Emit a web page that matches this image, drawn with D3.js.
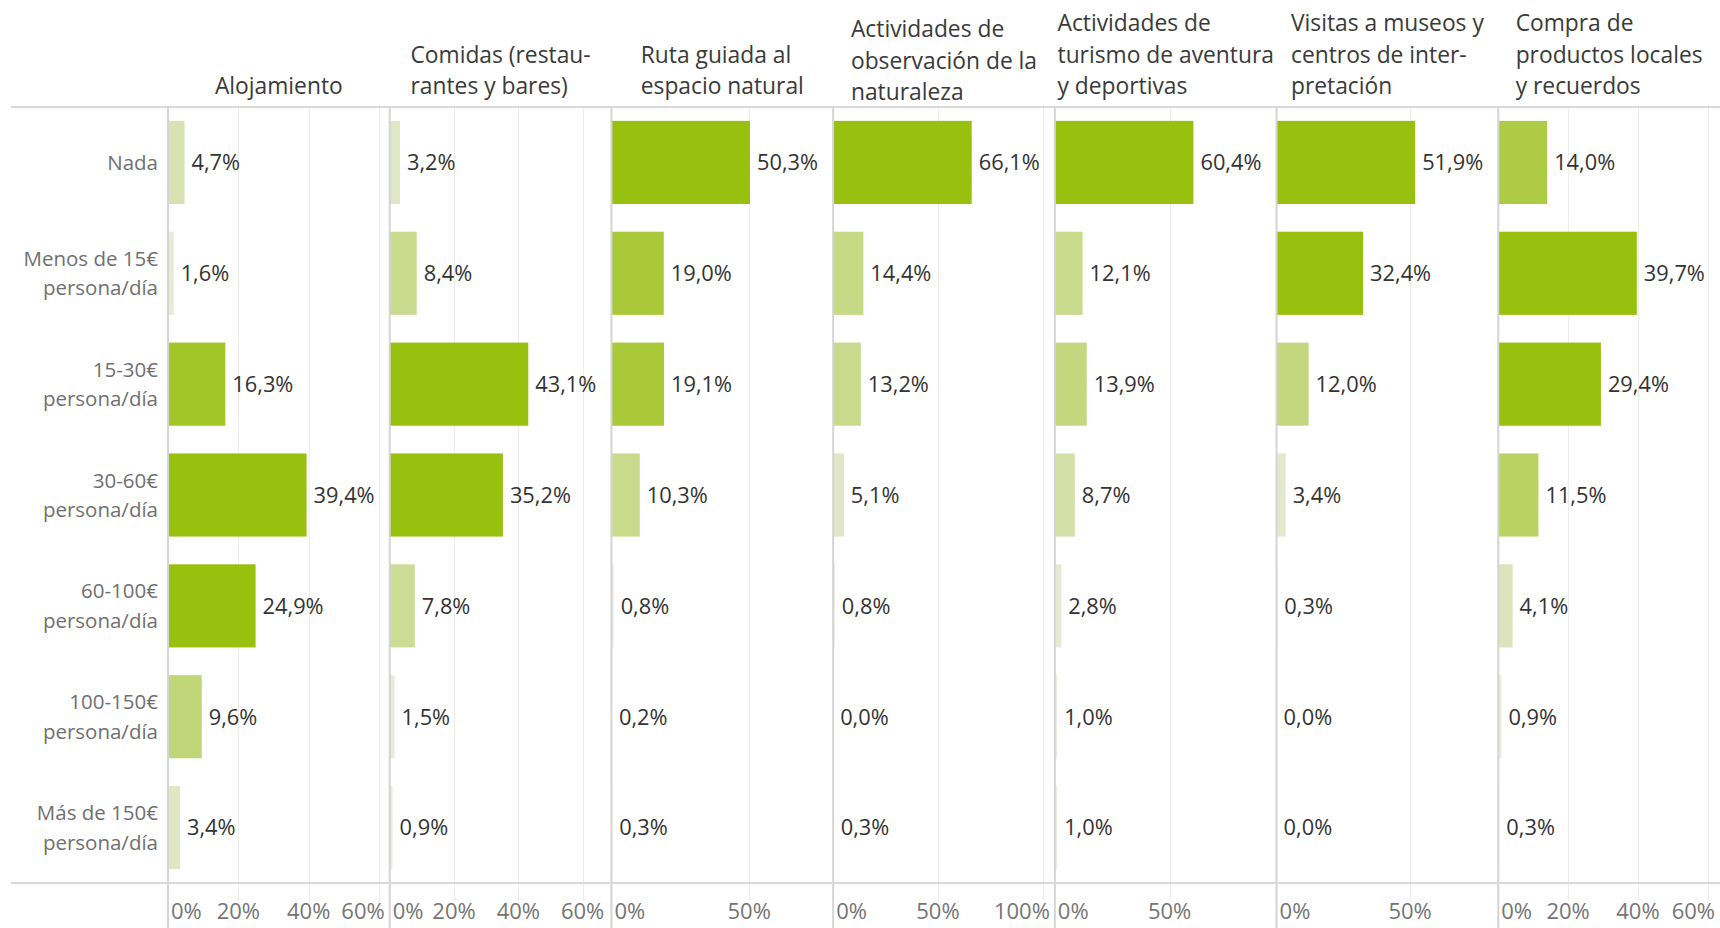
<!DOCTYPE html>
<html>
<head>
<meta charset="utf-8">
<script src="https://cdn.jsdelivr.net/npm/d3@7"></script>
<style>
  body { margin: 0; background: #fff; }
  svg text { font-family: "Open Sans", sans-serif; }
</style>
</head>
<body>
<script>
// row categories, one entry per line of text
var rowLabels = [
  ["Nada"],
  ["Menos de 15€", "persona/día"],
  ["15-30€", "persona/día"],
  ["30-60€", "persona/día"],
  ["60-100€", "persona/día"],
  ["100-150€", "persona/día"],
  ["Más de 150€", "persona/día"]
];

// column headers, wrapped as in the original
var columnHeaders = [
  ["Alojamiento"],
  ["Comidas (restau-", "rantes y bares)"],
  ["Ruta guiada al", "espacio natural"],
  ["Actividades de", "observación de la", "naturaleza"],
  ["Actividades de", "turismo de aventura", "y deportivas"],
  ["Visitas a museos y", "centros de inter-", "pretación"],
  ["Compra de", "productos locales", "y recuerdos"]
];

// % of respondents per spending band
var alojamiento = [4.7, 1.6, 16.3, 39.4, 24.9, 9.6, 3.4];
var comidas     = [3.2, 8.4, 43.1, 35.2, 7.8, 1.5, 0.9];
var rutaGuiada  = [50.3, 19.0, 19.1, 10.3, 0.8, 0.2, 0.3];
var observacion = [66.1, 14.4, 13.2, 5.1, 0.8, 0.0, 0.3];
var aventura    = [60.4, 12.1, 13.9, 8.7, 2.8, 1.0, 1.0];
var museos      = [51.9, 32.4, 12.0, 3.4, 0.3, 0.0, 0.0];
var compra      = [14.0, 39.7, 29.4, 11.5, 4.1, 0.9, 0.3];

// axis tick values per column
var axisTicks = [
  [0, 20, 40, 60],
  [0, 20, 40, 60],
  [0, 50],
  [0, 50, 100],
  [0, 50],
  [0, 50],
  [0, 20, 40, 60]
];

var series = [alojamiento, comidas, rutaGuiada, observacion, aventura, museos, compra];

var width = 1720, height = 928,
    lineStart = 11, panelStart = 168,
    yTop = 107, yBottom = 883;

var es = d3.formatLocale({decimal: ",", thousands: ".", grouping: [3], currency: ["", "€"]});
var fmt = es.format(".1f");

var svg = d3.select("body").append("svg")
    .attr("width", width)
    .attr("height", height);

// one band per column
var xPanel = d3.scaleBand()
    .domain(d3.range(series.length))
    .range([panelStart, width]);

// one band per spending row
var y = d3.scaleBand()
    .domain(d3.range(rowLabels.length))
    .range([yTop, yBottom])
    .paddingInner(0.25)
    .paddingOuter(0.125);

// light to full green ramp
var ramp = d3.interpolateRgb("#eeeeea", "#98c00e");

var gGrid = svg.append("g"),
    gBars = svg.append("g"),
    gLines = svg.append("g"),
    gText = svg.append("g");

series.forEach(function(vals, i) {
  var x0 = xPanel(i), x1 = x0 + xPanel.bandwidth();
  var vmax = d3.max(vals);
  var x = d3.scaleLinear().domain([0, vmax * 1.6]).range([x0, x1]);
  var color = d3.scaleLinear().domain([0, vmax * 0.47]).range([0, 1]).clamp(true);

  // gridlines
  gGrid.selectAll(".grid" + i)
      .data(axisTicks[i].filter(function(t) { return t > 0; }))
    .enter().append("line")
      .attr("x1", function(t) { return Math.round(x(t)) + 0.5; })
      .attr("x2", function(t) { return Math.round(x(t)) + 0.5; })
      .attr("y1", yTop)
      .attr("y2", yBottom + 18)
      .style("stroke", "#ececec")
      .style("stroke-width", 1);

  // bars
  gBars.selectAll(".bar" + i)
      .data(vals)
    .enter().append("rect")
      .attr("x", x(0))
      .attr("y", function(d, j) { return y(j); })
      .attr("width", function(d) { return x(d) - x(0); })
      .attr("height", y.bandwidth())
      .style("fill", function(d) { return ramp(color(d)); });

  // value labels
  gText.selectAll(".val" + i)
      .data(vals)
    .enter().append("text")
      .attr("x", function(d) { return x(d) + 7; })
      .attr("y", function(d, j) { return y(j) + y.bandwidth() / 2; })
      .attr("dy", "0.36em")
      .style("font-size", "21.8px")
      .style("fill", "#333")
      .text(function(d) { return fmt(d) + "%"; });

  // tick labels, kept inside the column
  axisTicks[i].forEach(function(t) {
    var lbl = gText.append("text")
        .attr("y", 911)
        .attr("dy", "0.36em")
        .style("font-size", "22px")
        .style("fill", "#757575")
        .text(t + "%");
    var w = lbl.node().getComputedTextLength();
    var lx = Math.max(x0 + 3, Math.min(x(t) - w / 2, x1 - 5 - w));
    lbl.attr("x", lx);
  });

  // column header, block centred, lines left aligned, sitting on the rule
  var head = gText.append("g");
  var lines = columnHeaders[i];
  var last = lines[lines.length - 1];
  var base = /[gjpqy()]/.test(last) ? 94 : 100;
  lines.forEach(function(s, k) {
    head.append("text")
        .attr("y", base - (lines.length - 1 - k) * 31.5)
        .style("font-size", "22.8px")
        .style("fill", "#3a3a3a")
        .text(s);
  });
  var maxW = d3.max(head.selectAll("text").nodes(), function(n) { return n.getComputedTextLength(); });
  head.selectAll("text").attr("x", (x0 + x1) / 2 - maxW / 2);

  // column divider
  gLines.append("line")
      .attr("x1", x0).attr("x2", x0)
      .attr("y1", yTop).attr("y2", height)
      .style("stroke", "#d4d4d4")
      .style("stroke-width", 2);
});

// header and axis rules
[yTop, yBottom].forEach(function(yy) {
  gLines.append("line")
      .attr("x1", lineStart).attr("x2", width)
      .attr("y1", yy).attr("y2", yy)
      .style("stroke", "#d9d9d9")
      .style("stroke-width", 2);
});

// row labels
rowLabels.forEach(function(lines, j) {
  var cy = y(j) + y.bandwidth() / 2;
  lines.forEach(function(s, k) {
    gText.append("text")
        .attr("x", 158)
        .attr("y", cy + (k - (lines.length - 1) / 2) * 29.5)
        .attr("dy", "0.36em")
        .attr("text-anchor", "end")
        .style("font-size", "20.5px")
        .style("fill", "#707070")
        .text(s);
  });
});
</script>
</body>
</html>
